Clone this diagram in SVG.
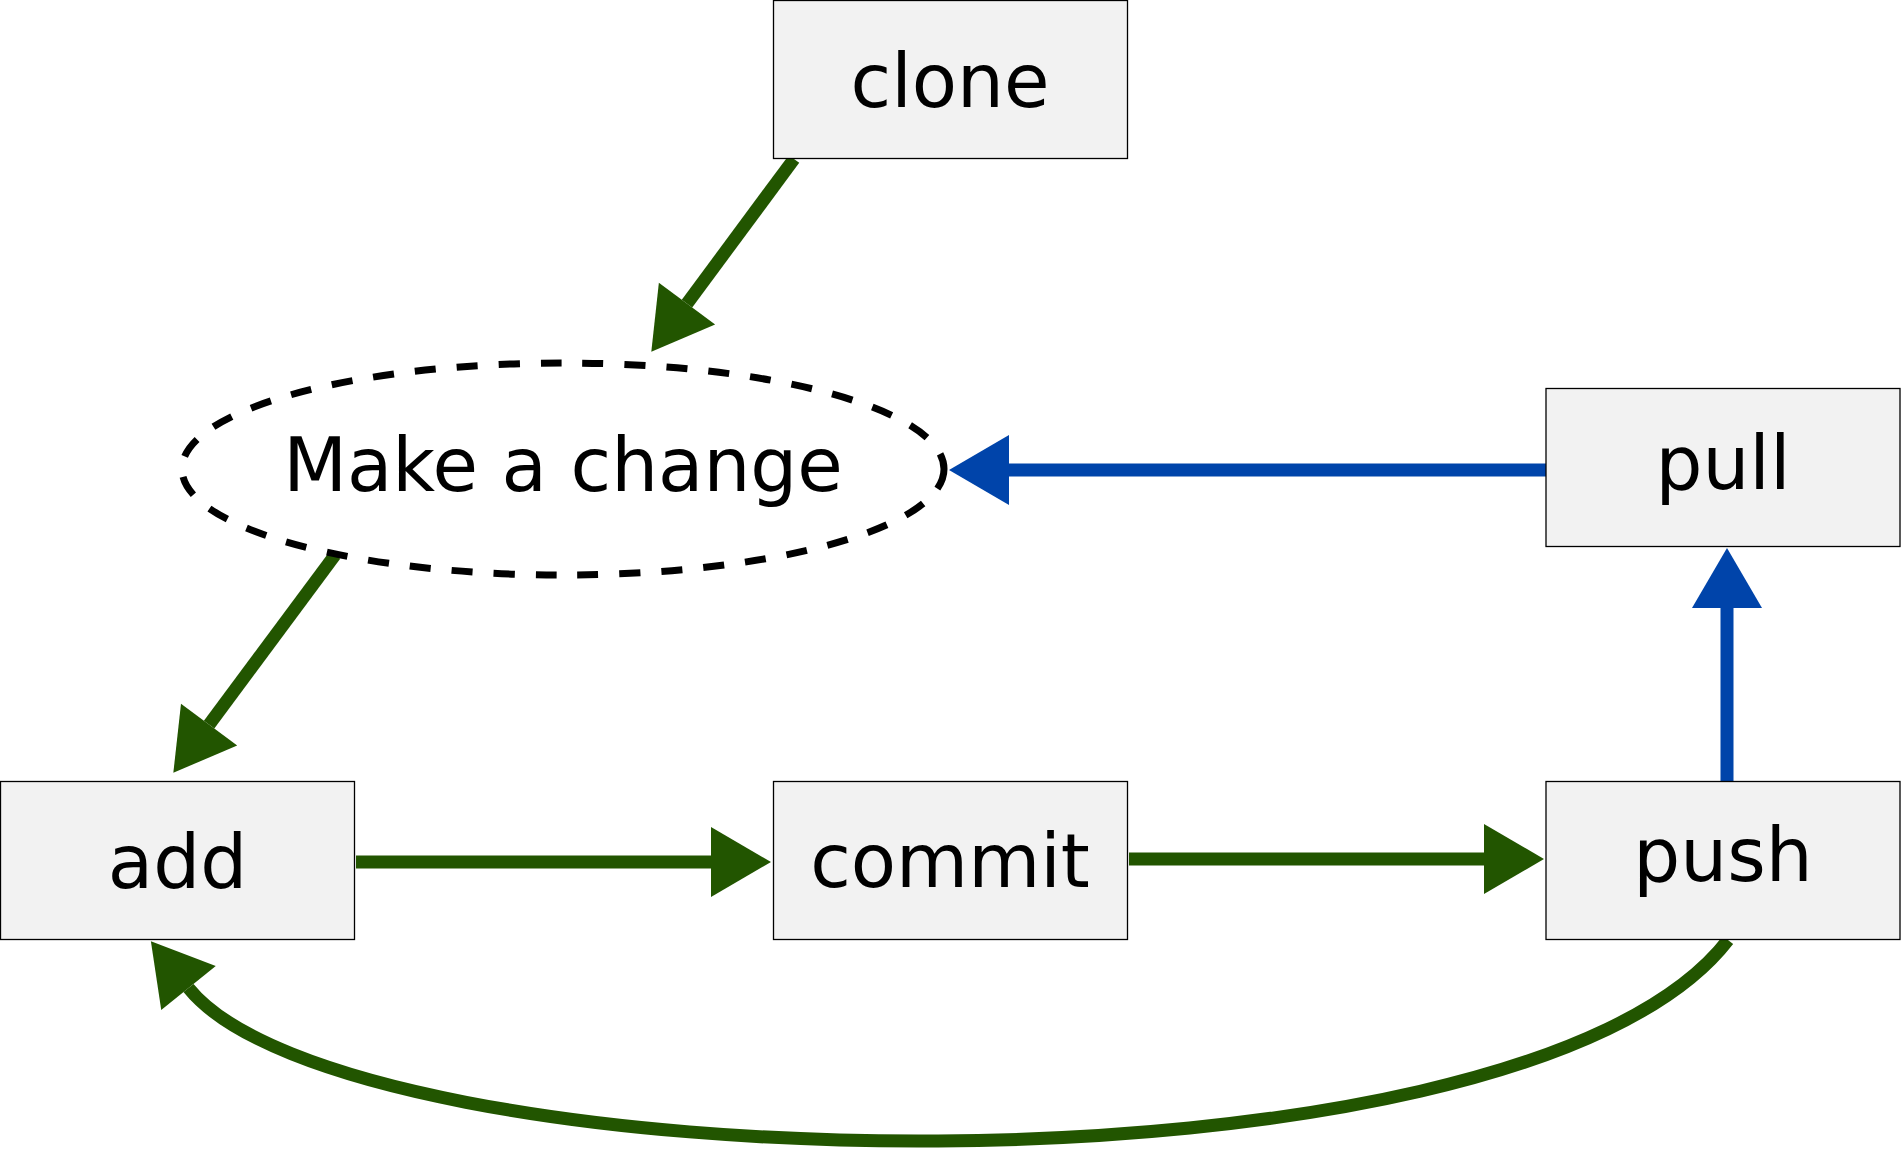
<svg xmlns="http://www.w3.org/2000/svg" width="1901" height="1149" viewBox="0 0 1901 1149">
<style>
.box{fill:#f2f2f2;stroke:#000;stroke-width:1.3}
.lbl{font-family:"DejaVu Sans",sans-serif;font-size:74px;fill:#000;text-anchor:middle}
.g{fill:none;stroke:#225500;stroke-width:13}
.b{fill:none;stroke:#0044aa;stroke-width:13}
</style>
<defs>
<marker id="ag" markerUnits="userSpaceOnUse" markerWidth="62" markerHeight="72" refX="0" refY="35" orient="auto" viewBox="0 0 62 72" overflow="visible">
<path d="M0,0 L60,35 L0,70 z" fill="#225500"/>
</marker>
<marker id="ab" markerUnits="userSpaceOnUse" markerWidth="62" markerHeight="72" refX="0" refY="35" orient="auto" viewBox="0 0 62 72" overflow="visible">
<path d="M0,0 L60,35 L0,70 z" fill="#0044aa"/>
</marker>
</defs>
<g id="connectors">
<path class="g" d="M794,159 L687,303.6" marker-end="url(#ag)"/>
<path class="g" d="M335,555 L209.1,724.6" marker-end="url(#ag)"/>
<path class="g" d="M356,862 L711,862" marker-end="url(#ag)"/>
<path class="g" d="M1129,859 L1484,859" marker-end="url(#ag)"/>
<path class="b" d="M1727,781 L1727,608" marker-end="url(#ab)"/>
<path class="b" d="M1546,470 L1009,470" marker-end="url(#ab)"/>
<path class="g" d="M1728,940 C1516,1215 347,1185 188.5,988" marker-end="url(#ag)"/>
</g>
<g id="clone"><rect class="box" x="773.5" y="0.5" width="354" height="158"/><text class="lbl" x="950" y="107">clone</text></g>
<g id="change"><ellipse cx="563" cy="469" rx="381" ry="106" fill="none" stroke="#000" stroke-width="7" stroke-dasharray="21 21"/><text class="lbl" x="563" y="491">Make a change</text></g>
<g id="add"><rect class="box" x="0.5" y="781.5" width="354" height="158"/><text class="lbl" x="177.5" y="888">add</text></g>
<g id="commit"><rect class="box" x="773.5" y="781.5" width="354" height="158"/><text class="lbl" x="950" y="887">commit</text></g>
<g id="push"><rect class="box" x="1546" y="781.5" width="354" height="158"/><text class="lbl" x="1723" y="881">push</text></g>
<g id="pull"><rect class="box" x="1546" y="388.5" width="354" height="158"/><text class="lbl" x="1723" y="489">pull</text></g>
</svg>
